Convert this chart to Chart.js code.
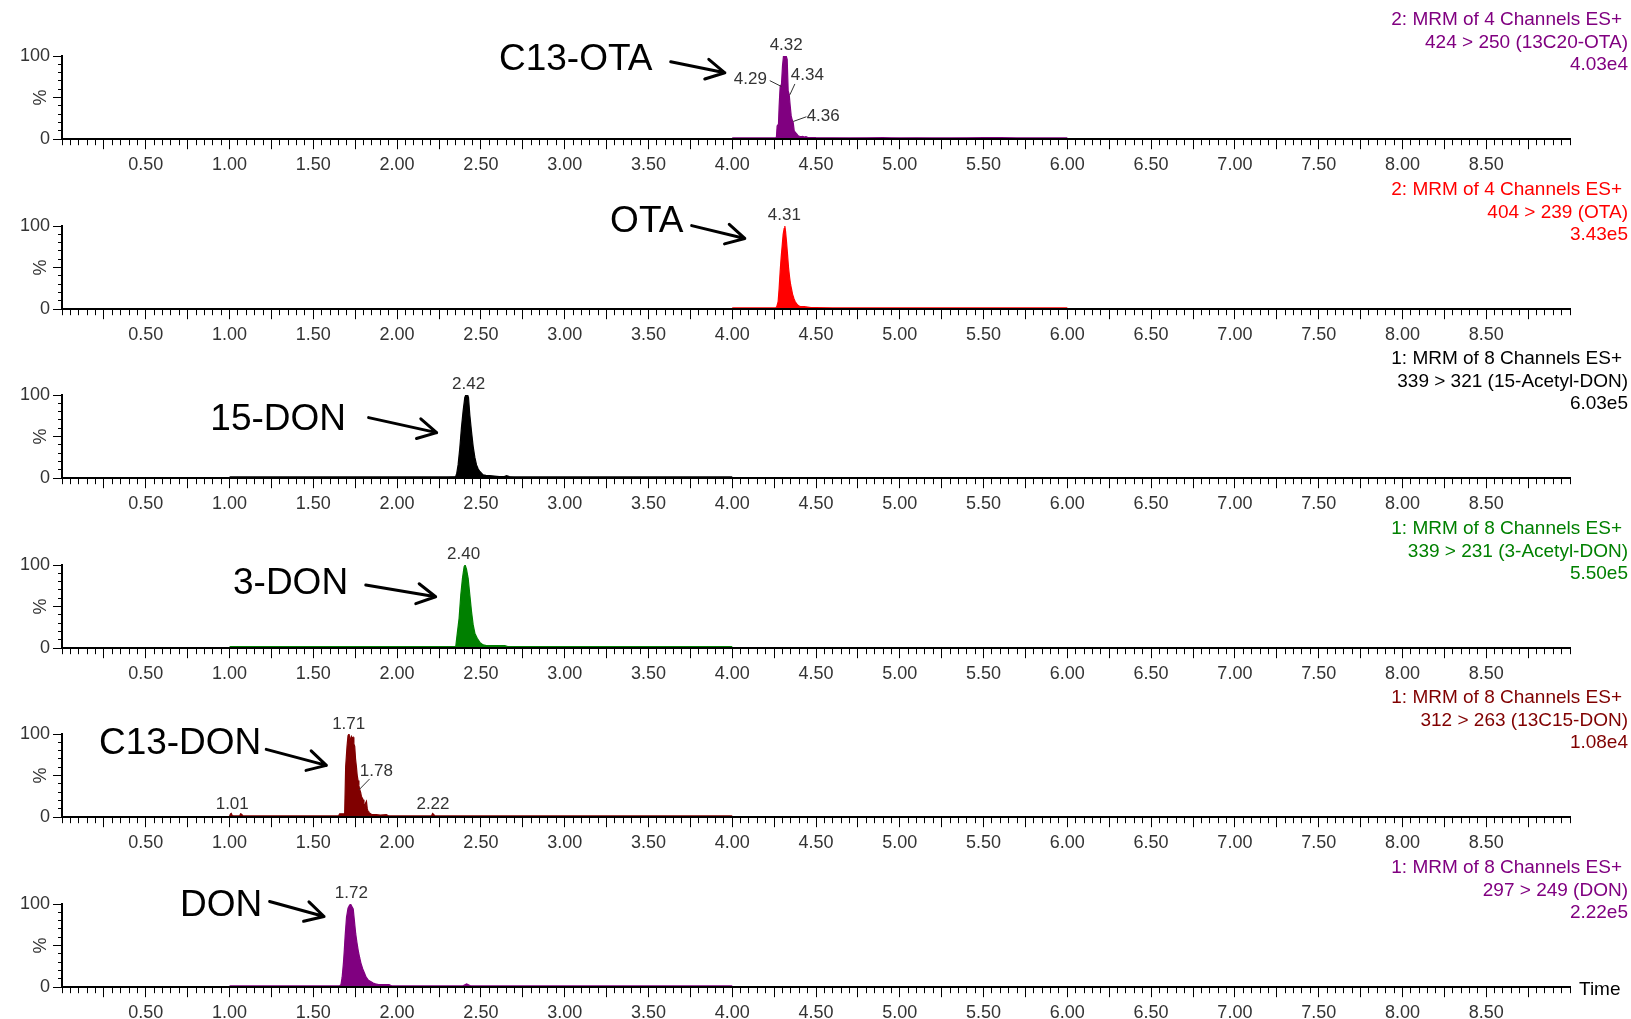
<!DOCTYPE html>
<html>
<head>
<meta charset="utf-8">
<title>MRM chromatograms</title>
<script src="https://cdn.jsdelivr.net/npm/chart.js@4/dist/chart.umd.min.js"></script>
<style>
  html, body { margin: 0; padding: 0; background: #ffffff; }
  #wrap { position: relative; width: 1631px; height: 1019px; overflow: hidden; background: #ffffff; }
  #wrap canvas { position: absolute; left: 0; }
</style>
</head>
<body>
<div id="wrap"></div>
<script>
// ---------------- data ----------------
const timeTickLabels = ['0.50','1.00','1.50','2.00','2.50','3.00','3.50','4.00','4.50','5.00','5.50','6.00','6.50','7.00','7.50','8.00','8.50'];
const yTickLabels = ['0', '100'];

const compoundNames = ['C13-OTA', 'OTA', '15-DON', '3-DON', 'C13-DON', 'DON'];
const channelHeaders = ['2: MRM of 4 Channels ES+', '2: MRM of 4 Channels ES+', '1: MRM of 8 Channels ES+',
                        '1: MRM of 8 Channels ES+', '1: MRM of 8 Channels ES+', '1: MRM of 8 Channels ES+'];
const transitions = ['424 > 250 (13C20-OTA)', '404 > 239 (OTA)', '339 > 321 (15-Acetyl-DON)',
                     '339 > 231 (3-Acetyl-DON)', '312 > 263 (13C15-DON)', '297 > 249 (DON)'];
const intensities = ['4.03e4', '3.43e5', '6.03e5', '5.50e5', '1.08e4', '2.22e5'];

// C13-OTA trace (time, %)
const c13otaTime = [4.00, 4.10, 4.20, 4.26, 4.264, 4.268, 4.276, 4.280, 4.286, 4.294, 4.300, 4.306, 4.312, 4.322, 4.328, 4.334, 4.340, 4.346, 4.352, 4.358, 4.364, 4.370, 4.378, 4.386, 4.394, 4.402, 4.412, 4.420, 4.430, 4.440, 4.450, 4.470, 4.50, 4.60, 4.70, 4.80, 4.90, 4.95, 5.00, 5.10, 5.20, 5.30, 5.40, 5.50, 5.55, 5.60, 5.70, 5.80, 5.90, 6.00];
const c13otaPct  = [1.5, 1.5, 1.5, 1.5, 3, 16, 18, 40, 63, 66, 88, 100, 100, 100, 96, 58, 54, 40, 28, 23, 20, 10, 8, 6, 4, 3.5, 3, 3.5, 2.5, 3, 2.2, 2, 1.8, 1.6, 1.5, 1.6, 1.8, 1.6, 1.5, 1.6, 1.5, 1.5, 1.6, 1.8, 2, 1.8, 1.5, 1.5, 1.5, 1.5];

// OTA trace
const otaTime = [4.00, 4.10, 4.20, 4.26, 4.266, 4.274, 4.280, 4.286, 4.292, 4.298, 4.304, 4.310, 4.314, 4.318, 4.324, 4.330, 4.336, 4.342, 4.348, 4.354, 4.360, 4.368, 4.376, 4.386, 4.396, 4.41, 4.43, 4.45, 4.47, 4.50, 4.60, 4.70, 4.80, 4.90, 5.00, 5.20, 5.40, 5.60, 5.80, 6.00];
const otaPct  = [1.5, 1.5, 1.5, 1.5, 3, 9, 25, 45, 62, 76, 90, 97, 100, 94, 81, 66, 50, 39, 30, 24, 18, 13, 9, 6, 4, 3, 3, 2.5, 2, 1.8, 1.5, 1.5, 1.5, 1.5, 1.5, 1.5, 1.5, 1.5, 1.5, 1.5];

// 15-Acetyl-DON trace
const don15Time = [1.00, 1.20, 1.40, 1.60, 1.80, 2.00, 2.20, 2.30, 2.350, 2.356, 2.364, 2.374, 2.384, 2.394, 2.404, 2.410, 2.414, 2.418, 2.422, 2.426, 2.434, 2.444, 2.454, 2.464, 2.474, 2.484, 2.494, 2.504, 2.513, 2.530, 2.553, 2.58, 2.61, 2.64, 2.653, 2.67, 2.70, 2.80, 3.00, 3.20, 3.40, 3.60, 3.80, 4.00];
const don15Pct  = [1.5, 1.5, 1.5, 1.5, 1.5, 1.5, 1.5, 1.5, 2, 6, 16, 36, 61, 81, 97, 100, 96, 100, 99, 97, 76, 56, 38, 25, 16, 11, 8, 6, 4, 3.5, 3, 2.5, 2, 2, 3, 2, 1.5, 1.5, 1.5, 1.5, 1.5, 1.5, 1.5, 1.5];

// 3-Acetyl-DON trace
const don3Time = [1.00, 1.20, 1.40, 1.60, 1.80, 2.00, 2.20, 2.30, 2.350, 2.358, 2.370, 2.380, 2.390, 2.400, 2.406, 2.414, 2.424, 2.434, 2.444, 2.454, 2.464, 2.478, 2.494, 2.513, 2.533, 2.56, 2.60, 2.643, 2.66, 2.70, 2.80, 3.00, 3.20, 3.40, 3.60, 3.80, 4.00];
const don3Pct  = [1.8, 1.8, 1.8, 1.8, 1.8, 1.8, 1.8, 1.8, 2, 16, 36, 64, 84, 98, 100, 95, 84, 64, 44, 28, 18, 12, 7, 4, 3, 3, 3, 3, 2, 1.8, 1.8, 1.8, 1.8, 1.8, 1.8, 1.8, 1.8];

// C13-DON trace
const c13donTime = [1.00, 1.006, 1.010, 1.016, 1.03, 1.06, 1.066, 1.072, 1.08, 1.20, 1.40, 1.60, 1.650, 1.657, 1.687, 1.693, 1.701, 1.707, 1.713, 1.720, 1.727, 1.732, 1.737, 1.742, 1.747, 1.752, 1.757, 1.762, 1.767, 1.772, 1.777, 1.782, 1.787, 1.792, 1.797, 1.802, 1.807, 1.812, 1.817, 1.822, 1.827, 1.832, 1.836, 1.85, 1.876, 1.90, 1.936, 1.95, 2.00, 2.10, 2.205, 2.212, 2.218, 2.225, 2.30, 2.50, 2.80, 3.00, 3.50, 4.00];
const c13donPct  = [1.5, 4, 4.5, 2, 1.5, 1.5, 4, 3.5, 1.5, 1.5, 1.5, 1.5, 1.5, 4, 4, 61, 85, 98, 100, 92, 97, 95, 96, 88, 85, 70, 61, 50, 44, 38, 33, 30, 25, 23, 21, 16, 13, 17, 19, 10, 7, 5, 5, 3, 3, 2.5, 3, 1.5, 1.5, 1.5, 1.5, 4.5, 3.5, 1.5, 1.5, 1.5, 1.5, 1.5, 1.5, 1.5];

// DON trace
const donTime = [1.00, 1.20, 1.40, 1.60, 1.655, 1.665, 1.672, 1.680, 1.685, 1.690, 1.698, 1.707, 1.715, 1.722, 1.730, 1.738, 1.745, 1.753, 1.760, 1.768, 1.776, 1.784, 1.795, 1.805, 1.815, 1.826, 1.840, 1.857, 1.870, 1.889, 1.91, 1.952, 1.97, 2.00, 2.20, 2.39, 2.405, 2.415, 2.425, 2.44, 2.60, 3.00, 3.50, 4.00];
const donPct  = [1.5, 1.5, 1.5, 1.5, 1.5, 3, 12, 30, 45, 62, 84, 95, 98, 100, 97, 94, 80, 64, 54, 44, 36, 29, 22, 17, 12, 9, 7, 5, 4, 3, 3, 3, 1.5, 1.5, 1.5, 1.5, 3, 4, 3, 1.5, 1.5, 1.5, 1.5, 1.5];

// peak retention-time labels
const c13otaPeakLabels = ['4.32', '4.29', '4.34', '4.36'];
const otaPeakLabels = ['4.31'];
const don15PeakLabels = ['2.42'];
const don3PeakLabels = ['2.40'];
const c13donPeakLabels = ['1.71', '1.78', '1.01', '2.22'];
const donPeakLabels = ['1.72'];

// ---------------- layout / style ----------------
const FONT = "'Liberation Sans', Arial, Helvetica, sans-serif";
const traceColors = ['#800080', '#ff0000', '#000000', '#008000', '#800000', '#800080'];
const traceTimes = [c13otaTime, otaTime, don15Time, don3Time, c13donTime, donTime];
const tracePcts = [c13otaPct, otaPct, don15Pct, don3Pct, c13donPct, donPct];
const peakLabelSets = [c13otaPeakLabels, otaPeakLabels, don15PeakLabels, don3PeakLabels, c13donPeakLabels, donPeakLabels];

// annotation anchors in data units [time, %]
const peakSpots = [
  [[4.322, 112.6], [4.108, 72], [4.448, 77], [4.543, 28.1]],
  [[4.311, 112.6]],
  [[2.427, 113.1]],
  [[2.397, 112.6]],
  [[1.711, 112.1], [1.876, 55.1], [1.016, 15], [2.214, 15]],
  [[1.727, 113]]
];
const peakLeaders = [
  [null, [4.224, 70.4, 4.294, 63.3], [4.374, 66.4, 4.344, 53.4], [4.443, 27, 4.364, 21.3]],
  [], [], [],
  [null, [1.836, 46, 1.773, 33], null, null],
  []
];
const nameSpots = [[3.066, 95.4], [3.490, 105.2], [1.290, 70.4], [1.364, 77.9], [0.705, 87.9], [0.950, 98.0]];
const arrowSpots = [
  [3.633, 93, 3.956, 79.8],
  [3.758, 100.5, 4.075, 85],
  [1.830, 72.8, 2.236, 54.8],
  [1.813, 76, 2.230, 61.8],
  [1.219, 81.5, 1.578, 62.3],
  [1.239, 103, 1.564, 85]
];

const PANEL_STEP = 169.6;
const CANVAS_W = 1631, CANVAS_H = 171;

function alignPx(p, w) { const h = w / 2; return Math.round(p - h) + h; }

const notesPlugin = {
  id: 'notes',
  afterDraw(chart, args, opts) {
    const i = opts.panel;
    const ctx = chart.ctx;
    const xs = chart.scales.x, ys = chart.scales.y;
    const X = v => xs.getPixelForValue(v);
    const Y = v => ys.getPixelForValue(v);
    const y0 = Y(0);
    ctx.save();

    // longer ticks every 0.25 min on the time axis, and at 0/50/100 on the % axis
    ctx.strokeStyle = '#000';
    ctx.lineWidth = 1;
    ctx.beginPath();
    xs.ticks.forEach(t => {
      const q = t.value / 0.25;
      if (t.value > 0.001 && t.value < 8.999 && Math.abs(q - Math.round(q)) < 1e-6) {
        const px = alignPx(X(t.value), 1);
        ctx.moveTo(px, y0 + 1);
        ctx.lineTo(px, y0 + 10);
      }
    });
    ys.ticks.forEach(t => {
      if (t.value === 0 || t.value === 50 || t.value === 100) {
        const py = alignPx(Y(t.value), 1);
        ctx.moveTo(xs.left - 1, py);
        ctx.lineTo(xs.left - 9, py);
      }
    });
    ctx.stroke();

    // % axis title
    ctx.save();
    ctx.translate(41, Y(50));
    ctx.rotate(-Math.PI / 2);
    ctx.fillStyle = '#333';
    ctx.font = '18px ' + FONT;
    ctx.textAlign = 'center';
    ctx.textBaseline = 'middle';
    ctx.fillText('%', 0, 0);
    ctx.restore();

    // peak labels with leader lines
    ctx.fillStyle = '#333';
    ctx.strokeStyle = '#333';
    ctx.font = '17px ' + FONT;
    ctx.textAlign = 'center';
    ctx.textBaseline = 'middle';
    peakLabelSets[i].forEach((txt, k) => {
      const s = peakSpots[i][k];
      ctx.fillText(txt, X(s[0]), Y(s[1]));
      const l = peakLeaders[i][k];
      if (l) {
        ctx.beginPath();
        ctx.lineWidth = 1;
        ctx.moveTo(X(l[0]), Y(l[1]));
        ctx.lineTo(X(l[2]), Y(l[3]));
        ctx.stroke();
      }
    });

    // compound name and arrow
    ctx.fillStyle = '#000';
    ctx.font = '37px ' + FONT;
    ctx.textAlign = 'center';
    ctx.textBaseline = 'middle';
    ctx.fillText(compoundNames[i], X(nameSpots[i][0]), Y(nameSpots[i][1]));
    const a = arrowSpots[i];
    const ax1 = X(a[0]), ay1 = Y(a[1]), ax2 = X(a[2]), ay2 = Y(a[3]);
    const ang = Math.atan2(ay2 - ay1, ax2 - ax1);
    const hl = 21, ha = 0.5;
    ctx.strokeStyle = '#000';
    ctx.lineWidth = 3;
    ctx.lineCap = 'round';
    ctx.lineJoin = 'round';
    ctx.beginPath();
    ctx.moveTo(ax1, ay1);
    ctx.lineTo(ax2, ay2);
    ctx.moveTo(ax2 - hl * Math.cos(ang - ha), ay2 - hl * Math.sin(ang - ha));
    ctx.lineTo(ax2, ay2);
    ctx.lineTo(ax2 - hl * Math.cos(ang + ha), ay2 - hl * Math.sin(ang + ha));
    ctx.stroke();

    // channel description, top right
    ctx.fillStyle = traceColors[i];
    ctx.font = '19px ' + FONT;
    ctx.textAlign = 'right';
    ctx.textBaseline = 'middle';
    ctx.fillText(channelHeaders[i], 1622, 20);
    ctx.fillText(transitions[i], 1628, 42.5);
    ctx.fillText(intensities[i], 1628, 65);

    // axis name on the last panel
    if (opts.showTime) {
      ctx.fillStyle = '#000';
      ctx.textAlign = 'left';
      ctx.fillText('Time', xs.right + 9, y0 + 3);
    }
    ctx.restore();
  }
};

const wrap = document.getElementById('wrap');

traceTimes.forEach((times, i) => {
  const canvas = document.createElement('canvas');
  canvas.width = CANVAS_W;
  canvas.height = CANVAS_H;
  canvas.style.top = Math.round(PANEL_STEP * i) + 'px';
  wrap.appendChild(canvas);

  const points = times.map((t, k) => ({ x: t, y: tracePcts[i][k] }));

  new Chart(canvas, {
    type: 'line',
    data: {
      datasets: [{
        data: points,
        borderColor: traceColors[i],
        backgroundColor: traceColors[i],
        borderWidth: 1.2,
        pointRadius: 0,
        fill: 'origin',
        tension: 0
      }]
    },
    plugins: [notesPlugin],
    options: {
      responsive: false,
      animation: false,
      events: [],
      layout: { padding: { top: 56, right: 61, bottom: 0, left: 0 } },
      scales: {
        x: {
          type: 'linear',
          min: 0,
          max: 9,
          afterFit(s) { s.height = 31.8; },
          ticks: {
            stepSize: 0.05,
            autoSkip: false,
            maxRotation: 0,
            minRotation: 0,
            padding: 9,
            color: '#333',
            font: { size: 18, family: FONT },
            callback: (v) => {
              const s = Number(v).toFixed(2);
              return timeTickLabels.includes(s) ? s : '';
            }
          },
          grid: { drawOnChartArea: false, drawTicks: true, tickLength: 6, color: '#000', lineWidth: 1 },
          border: { display: true, color: '#000', width: 2, z: 1 }
        },
        y: {
          min: 0,
          max: 100,
          afterFit(s) { s.width = 62; },
          ticks: {
            stepSize: 10,
            autoSkip: false,
            padding: 8,
            color: '#333',
            font: { size: 18, family: FONT },
            callback: (v) => {
              const r = Math.round(v);
              return (Math.abs(v - r) < 1e-9 && yTickLabels.includes(String(r))) ? String(r) : '';
            }
          },
          grid: { drawOnChartArea: false, drawTicks: true, tickLength: 4, color: '#000', lineWidth: 1 },
          border: { display: true, color: '#000', width: 2, z: 1 }
        }
      },
      plugins: {
        legend: { display: false },
        tooltip: { enabled: false },
        notes: { panel: i, showTime: i === traceTimes.length - 1 }
      }
    }
  });
});
</script>
</body>
</html>
